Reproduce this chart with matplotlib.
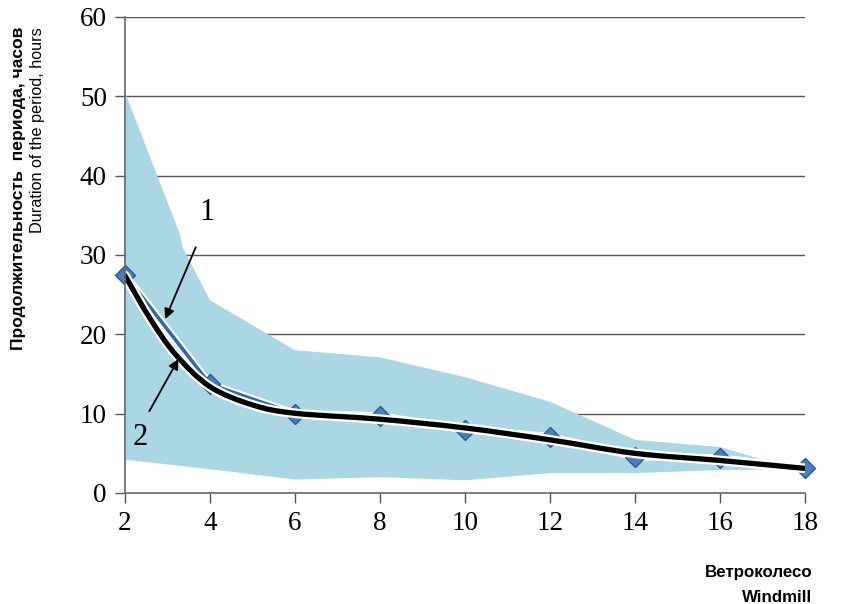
import matplotlib
matplotlib.use("Agg")
import matplotlib.pyplot as plt
import matplotlib.patheffects as pe
from matplotlib.patches import Polygon, PathPatch
from matplotlib.path import Path

# Data
x_points = [2, 4, 6, 8, 10, 12, 14, 16, 18]
y_points = [27.5, 13.7, 10.0, 9.7, 8.0, 7.1, 4.6, 4.4, 3.1]

band_x_upper = [2, 3.3, 3.35, 4, 6, 8, 10, 12, 14, 16, 17, 18]
band_upper = [50.5, 32.5, 31.0, 24.3, 18.0, 17.1, 14.6, 11.5, 6.7, 5.8, 4.2, 3.2]
band_x_lower = [2, 4, 6, 8, 10, 12, 14, 16, 18]
band_lower = [4.2, 3.0, 1.7, 2.0, 1.6, 2.5, 2.5, 2.9, 3.0]

trend_x = [2.0, 2.6, 3.2, 4.0, 5.0, 6.0, 8.0, 10.0, 12.0, 14.0, 16.0, 18.0]
trend_y = [27.4, 21.9, 17.4, 13.4, 11.1, 10.05, 9.3, 8.2, 6.7, 5.0, 4.1, 3.1]

y_ticks = [0, 10, 20, 30, 40, 50, 60]
x_ticks = [2, 4, 6, 8, 10, 12, 14, 16, 18]


def smooth_path(xs, ys, t=1/6):
    # Catmull-Rom style smoothed line (like a spreadsheet "smoothed line")
    verts = [(xs[0], ys[0])]
    codes = [Path.MOVETO]
    n = len(xs)
    for i in range(n - 1):
        x0, y0 = (xs[i - 1], ys[i - 1]) if i > 0 else (xs[i], ys[i])
        x1, y1 = xs[i], ys[i]
        x2, y2 = xs[i + 1], ys[i + 1]
        x3, y3 = (xs[i + 2], ys[i + 2]) if i + 2 < n else (xs[i + 1], ys[i + 1])
        c1 = (x1 + (x2 - x0) * t, y1 + (y2 - y0) * t)
        c2 = (x2 - (x3 - x1) * t, y2 - (y3 - y1) * t)
        verts += [c1, c2, (x2, y2)]
        codes += [Path.CURVE4] * 3
    return Path(verts, codes)


fig = plt.figure(figsize=(8.52, 6.04), dpi=100)
ax = fig.add_axes([125/852, 1-493/604, 680/852, 476/604])

for yt in y_ticks[1:]:
    ax.axhline(yt, color="#555555", lw=1.0, zorder=0.5)

poly = list(zip(band_x_upper, band_upper)) + list(zip(band_x_lower[::-1], band_lower[::-1]))
ax.add_patch(Polygon(poly, closed=True, facecolor="#abd6e3", edgecolor="none", zorder=3, alpha=1))

ax.plot(x_points, y_points, color="#3468a8", lw=2.6, zorder=4,
        path_effects=[pe.Stroke(linewidth=5.5, foreground="white"), pe.Normal()])
ax.add_patch(PathPatch(smooth_path(trend_x, trend_y), facecolor="none", edgecolor="black",
                       lw=3.8, zorder=5, capstyle="round",
                       path_effects=[pe.Stroke(linewidth=7, foreground="white"), pe.Normal()]))
ax.plot(x_points, y_points, ls="none", marker="D", ms=10, mfc="#4a7ebb",
        mec="#2b5a92", mew=1.0, zorder=4.5, clip_on=False)

# annotations
ax.annotate("", xy=(2.92, 21.6), xytext=(3.69, 31.3),
            arrowprops=dict(arrowstyle="-|>", color="black", lw=1.3, mutation_scale=15), zorder=6)
ax.text(3.93, 35.3, "1", fontsize=22, family="Liberation Serif", ha="center", va="center", zorder=6)
ax.annotate("", xy=(3.29, 17.2), xytext=(2.54, 10.0),
            arrowprops=dict(arrowstyle="-|>", color="black", lw=1.3, mutation_scale=15), zorder=6)
ax.text(2.35, 7.0, "2", fontsize=22, family="Liberation Serif", ha="center", va="center", zorder=6)

ax.set_xlim(2, 18)
ax.set_ylim(0, 60)
ax.set_xticks(x_ticks)
ax.set_yticks(y_ticks)
ax.set_xticklabels([str(v) for v in x_ticks], family="Liberation Serif", fontsize=19.5)
ax.set_yticklabels([str(v) for v in y_ticks], family="Liberation Serif", fontsize=19.5)
ax.tick_params(axis="both", direction="out", length=7, width=1, color="#555555", pad=6)
for s in ["top", "right"]:
    ax.spines[s].set_visible(False)
for s in ["left", "bottom"]:
    ax.spines[s].set_color("#666666")
    ax.spines[s].set_linewidth(1.2)
    ax.spines[s].set_zorder(7)

fig.text(19/852, 1-27/604, "Продолжительность  периода, часов", rotation=90,
         ha="center", va="top", fontsize=12.6, fontweight="bold",
         family=["Liberation Sans Narrow", "Liberation Sans"])
fig.text(38/852, 1-27/604, "Duration of the period, hours", rotation=90,
         ha="center", va="top", fontsize=11.7,
         family=["Liberation Sans Narrow", "Liberation Sans"])
fig.text(812/852, 1-572/604, "Ветроколесо", ha="right", va="center",
         fontsize=12.2, fontweight="bold", family="Liberation Sans")
fig.text(812/852, 1-597/604, "Windmill", ha="right", va="center",
         fontsize=12.2, fontweight="bold", family="Liberation Sans")

fig.savefig("out.png", dpi=100)
